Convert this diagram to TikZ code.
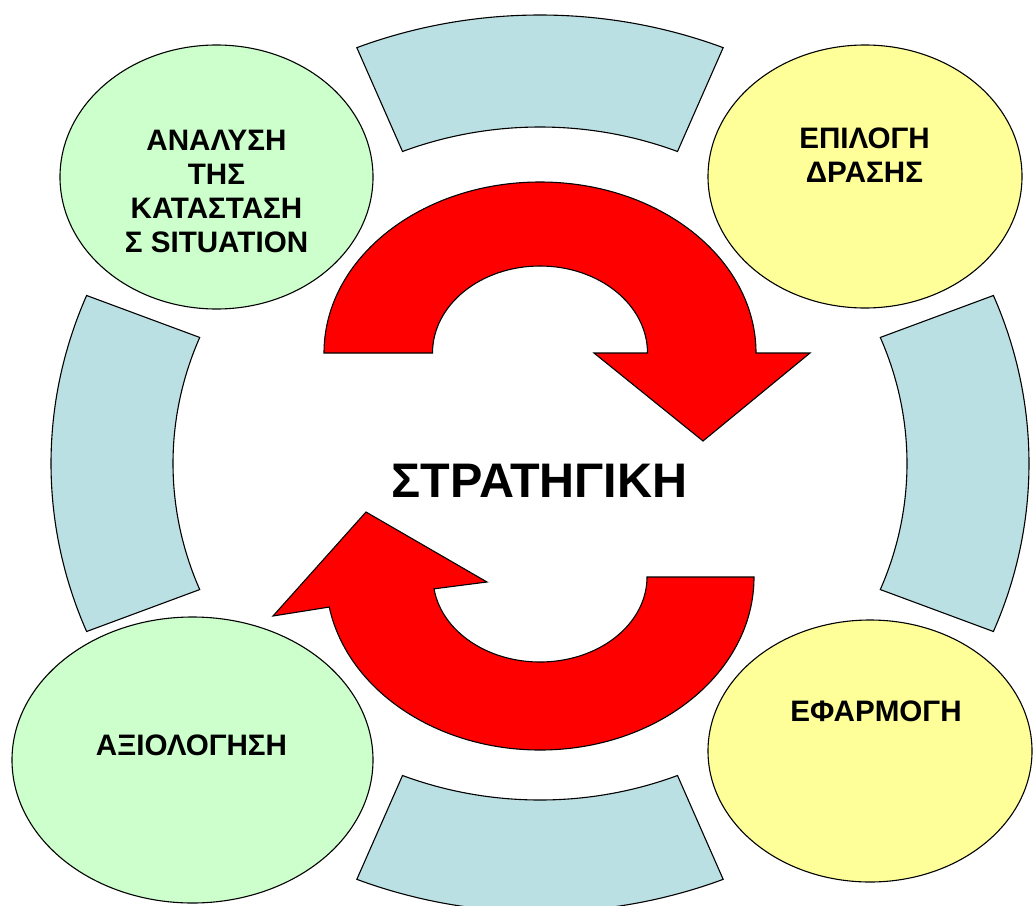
\documentclass[tikz,border=0pt]{standalone}
\usepackage{fontspec}
\setmainfont{Liberation Sans}[BoldFont={Liberation Sans Bold}]
\newfontfamily\heavyfont{Liberation Sans Bold}
\usetikzlibrary{shapes.geometric,calc}
\definecolor{segblue}{HTML}{BBE0E3}
\definecolor{palegreen}{HTML}{CCFFCC}
\definecolor{paleyellow}{HTML}{FFFF99}
\definecolor{arrowred}{HTML}{FF0000}
\tikzset{
  seg/.style={draw=black, line width=1.1pt, fill=segblue, line join=miter},
  bubble/.style={draw=black, line width=1.1pt, shape=ellipse, inner sep=0pt},
  greenbubble/.style={bubble, fill=palegreen},
  yellowbubble/.style={bubble, fill=paleyellow},
  redarrow/.style={draw=black, line width=1.1pt, fill=arrowred, line join=miter},
  labeltext/.style={font=\heavyfont\fontsize{29.6}{34}\selectfont, align=center, inner sep=0pt},
  bigtext/.style={font=\heavyfont\fontsize{48.5}{58}\selectfont, inner sep=0pt}
}
\begin{document}
\begin{tikzpicture}[x=1pt,y=-1pt]
\path[use as bounding box] (0,0) rectangle (1033,905);
\clip (0,0) rectangle (1033,905);

% ring segments
\begin{scope}[shift={(540,463.5)}]
\foreach \a in {0,90,180,270} {
  \pgfmathsetmacro\sa{\a-22}
  \pgfmathsetmacro\ea{\a+22}
  \draw[seg] (\sa:489 and 448.5)
    arc[start angle=\sa, end angle=\ea, x radius=489, y radius=448.5]
    -- (\ea:367 and 336.5)
    arc[start angle=\ea, end angle=\sa, x radius=367, y radius=336.5]
    -- cycle;
}
\end{scope}

% ellipses
\node[greenbubble, minimum width=313pt, minimum height=264pt] (analysis) at (216.5,177) {};
\node[yellowbubble, minimum width=314pt, minimum height=263pt] (choice) at (865,176.5) {};
\node[greenbubble, minimum width=361pt, minimum height=286pt] (evaluation) at (192.5,760) {};
\node[yellowbubble, minimum width=324pt, minimum height=262pt] (application) at (870,751) {};

% texts
\node[labeltext, anchor=center] (analysistext) at (216.5,191.6) {ΑΝΑΛΥΣΗ\\ΤΗΣ\\ΚΑΤΑΣΤΑΣΗ\\Σ SITUATION};
\node[labeltext, anchor=center] (choicetext) at (864.5,155.6) {ΕΠΙΛΟΓΗ\\ΔΡΑΣΗΣ};
\node[labeltext, anchor=base] (evaltext) at (191.5,755) {ΑΞΙΟΛΟΓΗΣΗ};
\node[labeltext, anchor=base] (apptext) at (876,721) {ΕΦΑΡΜΟΓΗ};

% top arrow
\draw[redarrow] (324,353)
  arc[start angle=180, end angle=360, x radius=216, y radius=171]
  -- (810,353) -- (703,441) -- (594,353) -- (647.5,353)
  arc[start angle=0, end angle=-180, x radius=107.5, y radius=87]
  -- cycle;

% bottom arrow
\draw[redarrow] (754,577)
  arc[start angle=0, end angle=170, x radius=214, y radius=173]
  -- (273,616) -- (366,512) -- (487,582)
  -- ($(540,577)+(172:107 and 85)$)
  arc[start angle=172, end angle=0, x radius=107, y radius=85]
  -- cycle;

\node[bigtext, anchor=base] (strategy) at (539.5,497) {ΣΤΡΑΤΗΓΙΚΗ};
\end{tikzpicture}
\end{document}
